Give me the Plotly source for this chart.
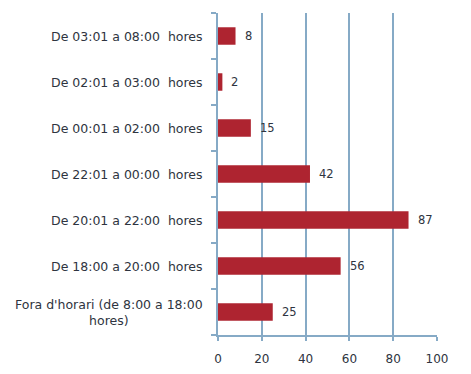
import plotly.graph_objects as go

categories = [
    "Fora d'horari (de 8:00 a 18:00<br>hores)",
    "De 18:00 a 20:00  hores",
    "De 20:01 a 22:00  hores",
    "De 22:01 a 00:00  hores",
    "De 00:01 a 02:00  hores",
    "De 02:01 a 03:00  hores",
    "De 03:01 a 08:00  hores",
]
values = [25, 56, 87, 42, 15, 2, 8]
x_ticks = [0, 20, 40, 60, 80, 100]

bar_color = "#AE2430"
axis_color = "#86AAC6"
text_color = "#2E3440"
font_family = "DejaVu Sans, Liberation Sans, Arial, sans-serif"

fig = go.Figure(go.Bar(
    y=categories,
    x=values,
    orientation="h",
    marker=dict(color=bar_color, line=dict(width=0)),
    width=0.38,
    hoverinfo="x+y",
))

annotations = []
# value labels
for c, v in zip(categories, values):
    annotations.append(dict(
        x=v, y=c, xref="x", yref="y",
        text=str(v), showarrow=False,
        xanchor="left", yanchor="middle", xshift=7,
        font=dict(size=11.5, color=text_color, family=font_family),
    ))
# category labels
for c in categories:
    annotations.append(dict(
        x=0, y=c, xref="paper", yref="y",
        text=c, showarrow=False,
        xanchor="right", yanchor="middle", xshift=-13,
        align="center",
        font=dict(size=12.5, color=text_color, family=font_family),
    ))

fig.update_layout(
    width=471,
    height=374,
    margin=dict(l=218, r=34, t=13, b=39, autoexpand=False),
    paper_bgcolor="white",
    plot_bgcolor="white",
    showlegend=False,
    font=dict(family=font_family, size=11, color=text_color),
    annotations=annotations,
    xaxis=dict(
        range=[0, 100],
        tickvals=x_ticks,
        ticktext=[str(t) for t in x_ticks],
        showgrid=True,
        gridcolor=axis_color,
        gridwidth=1.5,
        zeroline=False,
        showline=True,
        linecolor=axis_color,
        linewidth=1.5,
        ticks="outside",
        ticklen=4,
        tickwidth=1.5,
        tickcolor=axis_color,
        ticklabelstandoff=8,
        tickfont=dict(size=12, color=text_color, family=font_family),
        automargin=False,
        fixedrange=True,
    ),
    yaxis=dict(
        type="category",
        categoryorder="array",
        categoryarray=categories,
        showgrid=False,
        zeroline=False,
        showline=True,
        linecolor=axis_color,
        linewidth=1.5,
        ticks="outside",
        tickson="boundaries",
        ticklen=5,
        tickwidth=1.5,
        tickcolor=axis_color,
        showticklabels=False,
        automargin=False,
        fixedrange=True,
    ),
)

fig.write_html(
    "out.html",
    config={"displayModeBar": False},
    post_script="document.body.style.margin='0';",
)
